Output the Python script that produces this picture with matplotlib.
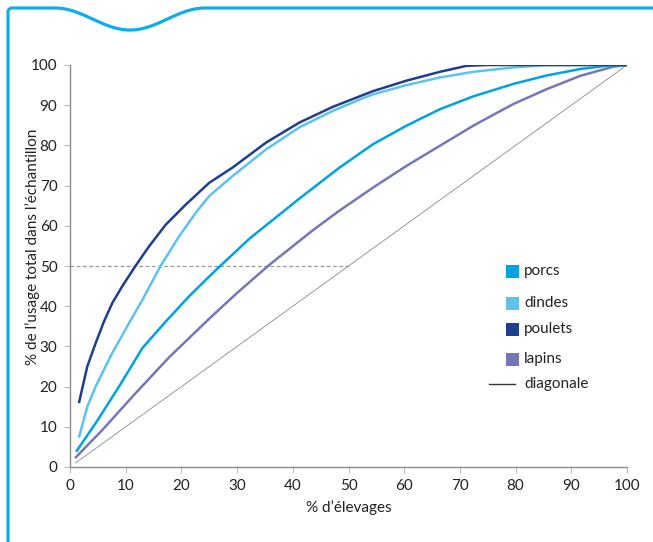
import numpy as np
import matplotlib
matplotlib.use("Agg")
import matplotlib.pyplot as plt
from matplotlib.patches import Rectangle
from matplotlib.lines import Line2D

plt.rcParams['font.family'] = ['Lato', 'DejaVu Sans']

# ---- data ----
poulets_x = [1.6, 3.1, 4.6, 6.1, 7.6, 9.4, 11.8, 14.2, 17.2, 20.8, 25, 29.2, 35.2, 41.2, 47.2, 52, 54.4, 60.4, 66.4, 71.2, 75, 100]
poulets_y = [15.9, 25, 30.8, 36.2, 40.8, 45, 50.1, 54.9, 60.3, 65.3, 70.7, 74.5, 80.7, 85.7, 89.6, 92.2, 93.5, 96.1, 98.3, 99.8, 100, 100]

dindes_x = [1.6, 3.1, 4.6, 7.6, 10.6, 13, 16.3, 19.6, 22.6, 25, 29.2, 35.2, 41.2, 47.2, 52, 54.4, 60.4, 66.4, 72.4, 79.6, 85.6, 100]
dindes_y = [7.3, 15, 20, 28.4, 35.8, 41.6, 50.1, 57.4, 63.3, 67.4, 72.4, 79, 84.5, 88.6, 91.4, 92.7, 95, 96.9, 98.3, 99.4, 100, 100]

porcs_x = [1.1, 4.6, 8.8, 13, 17.2, 21.4, 25, 26.5, 32.3, 41.3, 48.4, 54.4, 60.4, 66.4, 72.4, 79.6, 85.6, 91.6, 97.6, 100]
porcs_y = [3.8, 10.9, 20, 29.6, 36.2, 42.5, 47.4, 49.4, 56.9, 66.9, 74.5, 80.3, 84.9, 89, 92.2, 95.3, 97.4, 99, 100, 100]

lapins_x = [0.9, 5.8, 11.8, 17.8, 25, 30, 35.8, 43.6, 48.4, 54.4, 60.4, 66.4, 72.4, 79.6, 85.6, 91.6, 97.6, 100]
lapins_y = [2.2, 9.2, 18.4, 27.3, 36.9, 43.3, 50.3, 58.9, 63.8, 69.5, 74.9, 79.9, 84.9, 90.3, 94, 97.3, 99.6, 100]

diag_x = [1, 100]
diag_y = [1, 100]

ref_x = [0, 50]
ref_y = [50, 50]

series_names = ['porcs', 'dindes', 'poulets', 'lapins']
series_colors = ['#00a3e0', '#5ec2ee', '#1e3e8e', '#7577b9']

x_ticks = list(range(0, 101, 10))
y_ticks = list(range(0, 101, 10))

W, H = 653, 542
fig = plt.figure(figsize=(W / 100, H / 100), dpi=100)

ax = fig.add_axes([70 / W, (H - 467) / H, 557 / W, 402 / H])
ax.set_xlim(0, 100)
ax.set_ylim(0, 100)

ax.plot(ref_x, ref_y, color='#9a9a9a', lw=0.9, ls=(0, (3, 2)))
ax.plot(diag_x, diag_y, color='#8a8a8a', lw=0.6)
data = {'porcs': (porcs_x, porcs_y), 'dindes': (dindes_x, dindes_y),
        'poulets': (poulets_x, poulets_y), 'lapins': (lapins_x, lapins_y)}
color_of = dict(zip(series_names, series_colors))
for name in ['lapins', 'porcs', 'dindes', 'poulets']:
    xs, ys = data[name]
    ax.plot(xs, ys, color=color_of[name], lw=1.8, solid_capstyle='butt',
            solid_joinstyle='round')

for s in ['top', 'right']:
    ax.spines[s].set_visible(False)
for s in ['left', 'bottom']:
    ax.spines[s].set_color('#8c8c8c')
    ax.spines[s].set_linewidth(1.0)
ax.set_xticks(x_ticks)
ax.set_yticks(y_ticks)
ax.tick_params(axis='both', colors='#bbbbbb', length=4, width=0.8, labelcolor='#222222', labelsize=11)
ax.tick_params(axis='x', pad=5)
ax.tick_params(axis='y', pad=5)
ax.set_xlabel("% d\u2019élevages", fontsize=11, color='#222222')
ax.xaxis.set_label_coords((349 - 70) / 557, -(500 - 467) / 402)
ax.set_ylabel("% de l\u2019usage total dans l\u2019échantillon", fontsize=11, color='#222222')
ax.yaxis.set_label_coords(-(70 - 40) / 557, (467 - 247) / 402)

# legend (manual)
def px(x, y):
    return x / W, 1 - y / H

leg_y = [271, 303, 329, 359]
for name, col, yy in zip(series_names, series_colors, leg_y):
    x0, y0 = px(506, yy + 6.5)
    fig.add_artist(Rectangle((x0, y0), 13 / W, 13 / H, transform=fig.transFigure,
                             facecolor=col, edgecolor='none'))
    tx, ty = px(524, yy)
    fig.text(tx, ty, name, fontsize=11, color='#222222', va='center', ha='left')
lx0, ly = px(489, 384)
lx1, _ = px(515, 384)
fig.add_artist(Line2D([lx0, lx1], [ly, ly], transform=fig.transFigure, color='#333333', lw=1.0))
tx, ty = px(524, 384)
fig.text(tx, ty, 'diagonale', fontsize=11, color='#222222', va='center', ha='left')

# decorative frame
frame_col = '#0aaeea'
top, dip = 8, 30
xs = [8, 8]
ys = [H, top + 4]
t = np.linspace(0, np.pi / 2, 8)
xs += list(8 + 4 - 4 * np.cos(t))
ys += list(top + 4 - 4 * np.sin(t))
wx = np.linspace(55, 205, 80)
wy = top + (dip - top) * 0.5 * (1 - np.cos(2 * np.pi * (wx - 55) / 150))
xs += [55] + list(wx) + [W]
ys += [top] + list(wy) + [top]
fx = [x / W for x in xs]
fy = [1 - y / H for y in ys]
fig.add_artist(Line2D(fx, fy, transform=fig.transFigure, color=frame_col, lw=2.3,
                      solid_joinstyle='round'))

fig.savefig('out.png', dpi=100)
